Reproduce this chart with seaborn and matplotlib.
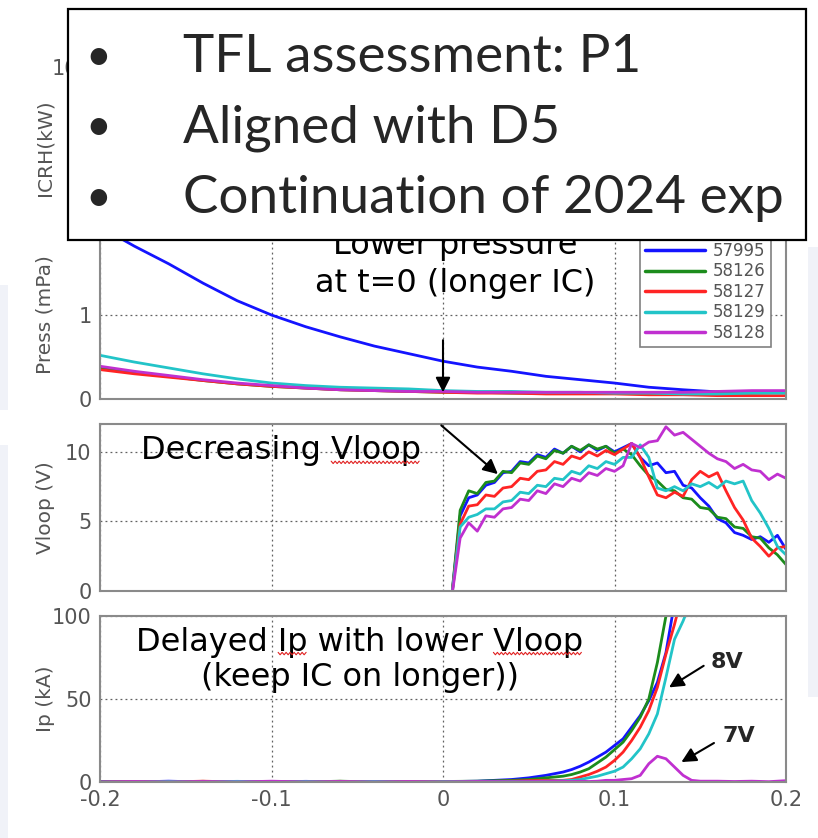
import numpy as np
import pandas as pd
import matplotlib
matplotlib.use("Agg")
import matplotlib.pyplot as plt
import seaborn as sns
from matplotlib.patches import Rectangle
from matplotlib.lines import Line2D
from matplotlib.font_manager import FontProperties
from matplotlib.transforms import IdentityTransform
from matplotlib.ticker import FuncFormatter

# ---------------- data ----------------
shots = ["57995", "58126", "58127", "58129", "58128"]
colors = ["#1414ff", "#1c8c1c", "#ff2424", "#22c4c8", "#c030d0"]

# neutral pressure (mPa)
t_press = [-0.20, -0.18, -0.16, -0.14, -0.12, -0.10, -0.08, -0.06, -0.04, -0.02,
           0.00, 0.02, 0.04, 0.06, 0.08, 0.10, 0.12, 0.14, 0.16, 0.18, 0.20]
press_57995 = [2.05, 1.82, 1.61, 1.38, 1.17, 1.00, 0.86, 0.74, 0.63, 0.54,
               0.45, 0.38, 0.33, 0.27, 0.23, 0.19, 0.14, 0.11, 0.085, 0.08, 0.08]
press_58126 = [0.37, 0.31, 0.27, 0.22, 0.18, 0.15, 0.13, 0.11, 0.10, 0.09,
               0.08, 0.08, 0.07, 0.07, 0.07, 0.07, 0.06, 0.06, 0.07, 0.07, 0.08]
press_58127 = [0.35, 0.30, 0.26, 0.22, 0.18, 0.15, 0.13, 0.11, 0.10, 0.09,
               0.08, 0.07, 0.07, 0.06, 0.06, 0.06, 0.05, 0.05, 0.04, 0.04, 0.04]
press_58129 = [0.52, 0.44, 0.37, 0.30, 0.24, 0.19, 0.16, 0.14, 0.13, 0.12,
               0.10, 0.09, 0.09, 0.08, 0.08, 0.07, 0.07, 0.06, 0.06, 0.07, 0.07]
press_58128 = [0.39, 0.33, 0.28, 0.23, 0.19, 0.16, 0.13, 0.11, 0.10, 0.09,
               0.09, 0.08, 0.08, 0.08, 0.08, 0.08, 0.08, 0.08, 0.09, 0.10, 0.10]

# loop voltage (V)
t_vloop = [0.005, 0.010, 0.015, 0.020, 0.025, 0.030, 0.035, 0.040, 0.045, 0.050,
           0.055, 0.060, 0.065, 0.070, 0.075, 0.080, 0.085, 0.090, 0.095, 0.100,
           0.105, 0.110, 0.115, 0.120, 0.125, 0.130, 0.135, 0.140, 0.145, 0.150,
           0.155, 0.160, 0.165, 0.170, 0.175, 0.180, 0.185, 0.190, 0.195, 0.200]
vloop_57995 = [-0.5, 5.4, 6.7, 6.9, 7.6, 7.8, 8.5, 8.6, 9.3, 9.2,
               9.8, 9.6, 10.2, 9.9, 10.4, 10.0, 10.5, 10.1, 10.4, 10.0,
               10.3, 10.6, 9.6, 9.0, 9.2, 8.5, 8.6, 7.6, 7.4, 6.7,
               6.1, 5.2, 4.9, 4.2, 4.0, 3.7, 3.9, 3.5, 4.0, 3.0]
vloop_58126 = [-0.5, 5.8, 7.2, 7.0, 7.8, 7.9, 8.6, 8.5, 9.2, 9.1,
               9.7, 9.5, 10.1, 9.9, 10.4, 10.1, 10.5, 10.2, 10.4, 9.9,
               10.2, 9.8, 9.0, 8.3, 7.9, 7.3, 7.2, 6.7, 6.6, 6.0,
               5.9, 5.3, 5.2, 4.6, 4.5, 3.9, 3.8, 3.1, 2.6, 1.9]
vloop_58127 = [-0.5, 4.8, 6.1, 6.2, 6.9, 6.8, 7.4, 7.5, 8.1, 8.0,
               8.6, 8.7, 9.3, 9.1, 9.7, 9.5, 10.0, 9.7, 10.1, 9.8,
               10.2, 10.6, 9.6, 8.2, 6.9, 6.7, 7.1, 6.8, 8.0, 8.6,
               8.2, 8.5, 7.2, 6.0, 5.1, 3.8, 3.2, 2.5, 3.1, 3.2]
vloop_58129 = [-0.5, 4.6, 5.3, 5.5, 5.9, 5.9, 6.4, 6.5, 7.1, 7.0,
               7.6, 7.5, 8.1, 8.0, 8.6, 8.4, 9.0, 8.8, 9.3, 9.1,
               9.6, 9.6, 10.5, 9.6, 7.4, 7.2, 7.5, 7.2, 7.7, 7.5,
               7.8, 7.4, 7.9, 7.7, 7.9, 6.5, 5.6, 4.5, 3.2, 2.6]
vloop_58128 = [-0.5, 3.8, 4.9, 4.3, 5.4, 5.3, 5.9, 6.0, 6.6, 6.5,
               7.2, 7.0, 7.7, 7.5, 8.1, 7.9, 8.5, 8.3, 8.8, 8.6,
               9.0, 10.6, 10.3, 10.7, 10.8, 11.8, 11.2, 11.4, 10.9, 10.4,
               9.9, 9.5, 9.3, 8.8, 9.1, 8.7, 8.6, 8.0, 8.4, 8.1]

# plasma current (kA)
t_ip = [-0.20, -0.18, -0.16, -0.14, -0.12, -0.10, -0.08, -0.06, -0.04, -0.02,
        0.00, 0.02, 0.04, 0.05, 0.06, 0.07, 0.075, 0.08, 0.085, 0.09,
        0.095, 0.10, 0.105, 0.11, 0.115, 0.12, 0.125, 0.13, 0.135, 0.14,
        0.145, 0.15, 0.16, 0.17, 0.18, 0.19, 0.20]
ip_57995 = [0.3, 0, 0.5, 0, 0.3, 0, 0.4, 0, 0.3, 0,
            0.2, 0.5, 1.5, 2.5, 4, 6, 7.5, 9.5, 12, 15,
            18, 22, 26, 33, 40, 49, 60, 78, 108, 140,
            170, 200, 230, 260, 290, 310, 330]
ip_58126 = [0, 0.3, 0, 0.4, 0, 0.3, 0, 0.5, 0, 0.3,
            0.3, 0.5, 1.0, 1.5, 2.5, 3.5, 4.5, 6, 8, 11.5,
            15, 19.5, 24, 31, 39, 50, 72, 100, 130, 160,
            190, 220, 250, 280, 300, 320, 340]
ip_58127 = [0, 0.3, 0, 0.5, 0, 0.3, 0, 0.4, 0, 0.3,
            0.2, 0.3, 0.5, 0.8, 1, 1, 1.5, 3, 4.5, 6.5,
            9, 13, 18, 25, 33, 43, 57, 77, 95, 115,
            140, 165, 200, 230, 260, 280, 300]
ip_58129 = [0, 0, 0.3, 0, 0.4, 0, 0.3, 0, 0.3, 0,
            0.2, 0.2, 0.3, 0.3, 0.5, 0.8, 1, 1.5, 2.5, 3.5,
            5, 6.5, 9, 14, 20, 29, 41, 63, 86, 97,
            110, 130, 160, 190, 220, 240, 260]
ip_58128 = [0, 0.3, 0, 0.3, 0, 0.5, 0, 0.3, 0, 0.3,
            0, 0.3, 0.2, 0.3, 0.3, 0.5, 0.3, 0.5, 0.3, 0.5,
            1, 1, 1.5, 2, 4, 11, 15.5, 14, 9, 4,
            1, 0.5, 0.5, 0.3, 0.5, 0.2, 0.8]

bullets = ["TFL assessment: P1", "Aligned with D5", "Continuation of 2024 exp"]


def long_frame(t, series):
    return pd.concat([pd.DataFrame({"t": t, "v": vals, "shot": s})
                      for s, vals in zip(shots, series)], ignore_index=True)


press_df = long_frame(t_press, [press_57995, press_58126, press_58127, press_58129, press_58128])
vloop_df = long_frame(t_vloop, [vloop_57995, vloop_58126, vloop_58127, vloop_58129, vloop_58128])
ip_df = long_frame(t_ip, [ip_57995, ip_58126, ip_58127, ip_58129, ip_58128])

# ---------------- style ----------------
sns.set_style("white")
plt.rcParams["font.family"] = ["DejaVu Sans"]
plt.rcParams["axes.unicode_minus"] = False

W, H = 818, 838
fig = plt.figure(figsize=(W / 100, H / 100), dpi=100)
fig.patch.set_facecolor("white")


def rect(x0, y0, x1, y1):
    return [x0 / W, 1 - y1 / H, (x1 - x0) / W, (y1 - y0) / H]


def fpt(x, y):
    return (x / W, 1 - y / H)


# faint background shapes at the slide edges
for (x0, y0, x1, y1) in [(0, 285, 8, 410), (0, 445, 8, 838), (808, 247, 818, 697)]:
    fig.patches.append(Rectangle(fpt(x0, y1), (x1 - x0) / W, (y1 - y0) / H,
                                 transform=fig.transFigure, color="#f0f2f8",
                                 lw=0, zorder=-5))

ax_c = fig.add_axes(rect(100, 39, 786, 206))
ax_p = fig.add_axes(rect(100, 231, 786, 399))
ax_v = fig.add_axes(rect(100, 424, 786, 591))
ax_i = fig.add_axes(rect(100, 616, 786, 782))

spine_col = "#8a8a8a"
label_col = "#555555"
for ax in (ax_c, ax_p, ax_v, ax_i):
    ax.set_facecolor("white")
    for sp in ax.spines.values():
        sp.set_color(spine_col)
        sp.set_linewidth(1.5)
    ax.set_xlim(-0.2, 0.2)
    ax.set_xticks([-0.2, -0.1, 0.0, 0.1, 0.2])
    ax.xaxis.set_major_formatter(FuncFormatter(lambda v, p: "%g" % round(v, 3)))
    ax.grid(True, linestyle=(0, (1.5, 2.5)), color="#606060", linewidth=0.9)
    ax.tick_params(direction="in", length=4, width=0.8, color=spine_col,
                   labelsize=15, labelcolor=label_col, pad=6)
    ax.tick_params(axis="x", labelbottom=False)

pal = dict(zip(shots, colors))
sns.lineplot(data=press_df, x="t", y="v", hue="shot", hue_order=shots, palette=pal,
             estimator=None, sort=False, lw=2.0, ax=ax_p, legend=False)
sns.lineplot(data=vloop_df, x="t", y="v", hue="shot", hue_order=shots, palette=pal,
             estimator=None, sort=False, lw=2.0, ax=ax_v, legend=False)
sns.lineplot(data=ip_df, x="t", y="v", hue="shot", hue_order=shots, palette=pal,
             estimator=None, sort=False, lw=2.0, ax=ax_i, legend=False)

ax_c.set_ylim(0, 120)
ax_c.set_yticks([50, 100])
ax_p.set_ylim(0, 2)
ax_p.set_yticks([0, 1, 2])
ax_v.set_ylim(0, 12)
ax_v.set_yticks([0, 5, 10])
ax_i.set_ylim(0, 100)
ax_i.set_yticks([0, 50, 100])
ax_i.tick_params(axis="x", labelbottom=True)

for ax, lab, yc in [(ax_c, "ICRH(kW)", 0.35), (ax_p, "Press (mPa)", 0.5),
                    (ax_v, "Vloop (V)", 0.5), (ax_i, "Ip (kA)", 0.5)]:
    ax.set_ylabel(lab, fontsize=14.5, color=label_col)
    ax.yaxis.set_label_coords(-0.066, yc)
    ax.set_xlabel("")
ax_i.set_xlabel("time (s)", fontsize=15, color=label_col, labelpad=2)

# legend
handles = [Line2D([], [], color=c, lw=2.5) for c in colors]
leg = ax_p.legend(handles, shots, loc="lower right", bbox_to_anchor=(0.978, 0.31),
                  borderaxespad=0, fontsize=12, handlelength=3.6, labelspacing=0.15,
                  handletextpad=0.5, borderpad=0.3, fancybox=False, framealpha=1,
                  edgecolor="#808080")
leg.get_frame().set_linewidth(1.2)
for txt in leg.get_texts():
    txt.set_color(label_col)

# annotations
ann_kw = dict(fontsize=23, color="black")
arrow_kw = dict(arrowstyle="-|>", color="black", lw=1.5, mutation_scale=22,
                shrinkA=0, shrinkB=0)

ax_p.text(0.007, 1.83, "Lower pressure", ha="center", va="center", **ann_kw)
ax_p.text(0.007, 1.38, "at t=0 (longer IC)", ha="center", va="center", **ann_kw)
ax_p.annotate("", xy=(0.0, 0.08), xytext=(0.0, 0.70), arrowprops=arrow_kw)

t_dec = ax_v.text(-0.176, 10.07, "Decreasing Vloop", ha="left", va="center", **ann_kw)
ax_v.annotate("", xy=(0.032, 8.4), xytext=(-0.001, 11.9), arrowprops=arrow_kw)

t_ip1 = ax_i.text(-0.0485, 84.3, "Delayed Ip with lower Vloop", ha="center", va="center", **ann_kw)
ax_i.text(-0.0485, 62.7, "(keep IC on longer))", ha="center", va="center", **ann_kw)

ax_i.annotate("", xy=(0.1318, 57), xytext=(0.152, 70), arrowprops=arrow_kw)
ax_i.text(0.156, 72, "8V", ha="left", va="center", fontsize=16, fontweight="bold")
ax_i.annotate("", xy=(0.139, 12), xytext=(0.158, 23.5), arrowprops=arrow_kw)
ax_i.text(0.163, 28, "7V", ha="left", va="center", fontsize=16, fontweight="bold")

# text box with bullet list
box = Rectangle(fpt(68, 240), (806 - 68) / W, (240 - 9) / H, transform=fig.transFigure,
                facecolor="white", edgecolor="black", lw=1.6, zorder=10)
fig.patches.append(box)
baselines = [72, 142, 213]
box_texts = []
for s, yb in zip(bullets, baselines):
    fig.text(*fpt(98, yb - 2), "\u2022", ha="center", va="baseline", fontsize=32,
             family="Lato", zorder=11)
    box_texts.append(fig.text(*fpt(183, yb), s, ha="left", va="baseline",
                              fontsize=37, family="Lato", zorder=11))

fig.canvas.draw()
renderer = fig.canvas.get_renderer()
wid = box_texts[2].get_window_extent(renderer).width
size = 37 * 600.0 / wid
for t in box_texts:
    t.set_fontsize(size)


def wavy(text_artist, prefix, word):
    fig.canvas.draw()
    r = fig.canvas.get_renderer()
    fp = FontProperties(family="DejaVu Sans", size=text_artist.get_fontsize())
    bb = text_artist.get_window_extent(r)
    full = text_artist.get_text()
    w_full, _, d_full = r.get_text_width_height_descent(full, fp, ismath=False)
    w_pre, _, _ = r.get_text_width_height_descent(prefix, fp, ismath=False)
    w_word, _, _ = r.get_text_width_height_descent(word, fp, ismath=False)
    sx = bb.width / w_full
    x0 = bb.x0 + w_pre * sx
    x1 = x0 + w_word * sx
    yb = bb.y0 + d_full - 3
    xs = np.arange(x0, x1, 2.0)
    ys = yb + np.where(np.arange(len(xs)) % 2 == 0, 1.2, -1.2)
    fig.add_artist(Line2D(xs, ys, transform=IdentityTransform(), color="#e02020",
                          lw=0.8, zorder=9))


wavy(t_dec, "Decreasing ", "Vloop")
wavy(t_ip1, "Delayed ", "Ip")
wavy(t_ip1, "Delayed Ip with lower ", "Vloop")

fig.savefig("out.png", dpi=100, facecolor="white")
